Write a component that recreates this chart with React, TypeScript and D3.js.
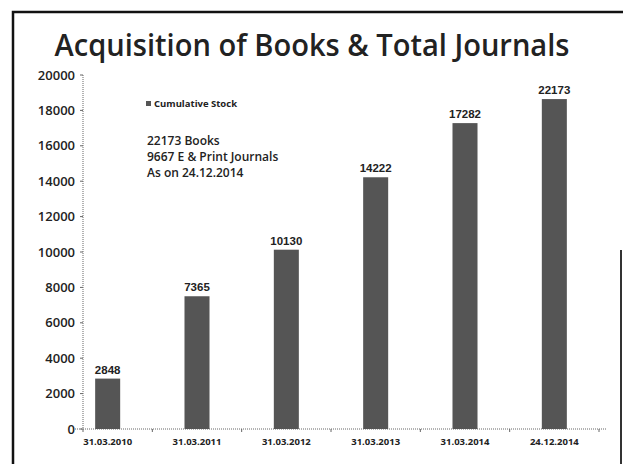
import * as d3 from "d3";
import React from "react";

const WIDTH = 623;
const HEIGHT = 464;

// categories on the x axis
const dates = [
  "31.03.2010",
  "31.03.2011",
  "31.03.2012",
  "31.03.2013",
  "31.03.2014",
  "24.12.2014",
];

// labels printed above the bars
const stockLabels = [2848, 7365, 10130, 14222, 17282, 22173];

// heights as the bars are actually drawn in the picture (last one is clipped at ~18640)
const barValues = [2848, 7500, 10130, 14222, 17282, 18640];

const yTicks = [0, 2000, 4000, 6000, 8000, 10000, 12000, 14000, 16000, 18000, 20000];

const noteLines = ["22173 Books", "9667 E & Print Journals", "As on 24.12.2014"];

const BAR_FILL = "#555555";
const FONT = "'Open Sans', 'Noto Sans', sans-serif";

export default function App() {
  const y = d3.scaleLinear().domain([0, 20000]).range([429, 75]);

  const x = d3
    .scaleBand<string>()
    .domain(dates)
    .range([63, 599])
    .paddingInner(0.72)
    .paddingOuter(0.36);

  const axisLeft = 83;
  const axisRight = 606;

  const bars = dates.map((d, i) => (
    <g key={d}>
      <rect
        x={x(d)}
        y={y(barValues[i])}
        width={x.bandwidth()}
        height={y(0) - y(barValues[i])}
        fill={BAR_FILL}
      />
      <text
        x={x(d)! + x.bandwidth() / 2}
        y={y(barValues[i]) - 5}
        textAnchor="middle"
        fontFamily="'Liberation Sans', Arial, sans-serif"
        fontWeight="bold"
        fontSize={11.5}
        fill="#222"
      >
        {stockLabels[i]}
      </text>
      <text
        x={x(d)! + x.bandwidth() / 2}
        y={445}
        textAnchor="middle"
        fontFamily={FONT}
        fontWeight="bold"
        fontSize={9.5}
        fill="#222"
      >
        {d}
      </text>
    </g>
  ));

  const ticks = yTicks.map((t) => (
    <g key={t} transform={`translate(0, ${y(t)})`}>
      <line x1={axisLeft - 3} x2={axisLeft} stroke="#666" strokeWidth={1} />
      <text
        x={75}
        dy="0.35em"
        textAnchor="end"
        fontFamily={FONT}
        fontWeight={600}
        fontSize={13}
        fill="#222"
      >
        {t}
      </text>
    </g>
  ));

  const xTicks = d3.range(dates.length + 1).map((i) => {
    const xx = i === 0 ? axisLeft : x.range()[0] + x.step() * i;
    return (
      <line
        key={i}
        x1={xx}
        x2={xx}
        y1={y(0)}
        y2={y(0) + 3}
        stroke="#666"
        strokeWidth={1}
      />
    );
  });

  return (
    <svg
      width={WIDTH}
      height={HEIGHT}
      style={{ position: "absolute", left: 0, top: 0, background: "#fff" }}
    >
      {/* frame of the scanned slide */}
      <path d="M13,470 L13,12 L623,12" fill="none" stroke="#111" strokeWidth={2.5} />
      <line x1={621} x2={621} y1={250} y2={470} stroke="#333" strokeWidth={2} />

      <text
        x={312}
        y={56}
        textAnchor="middle"
        fontFamily={FONT}
        fontWeight={600}
        fontSize={31}
        fill="#222"
        textLength={515}
        lengthAdjust="spacingAndGlyphs"
      >
        Acquisition of Books &amp; Total Journals
      </text>

      {/* axes */}
      <line
        x1={axisLeft}
        x2={axisLeft}
        y1={y(20000)}
        y2={y(0)}
        stroke="#666"
        strokeWidth={1}
        strokeDasharray="1 1"
      />
      <line
        x1={75}
        x2={axisRight}
        y1={y(0)}
        y2={y(0)}
        stroke="#666"
        strokeWidth={1}
        strokeDasharray="1 1"
      />
      {ticks}
      {xTicks}
      {bars}

      {/* legend */}
      <rect x={146} y={101} width={5} height={5} fill={BAR_FILL} />
      <text x={154} y={107} fontFamily={FONT} fontWeight="bold" fontSize={9.5} fill="#222">
        Cumulative Stock
      </text>

      {noteLines.map((line, i) => (
        <text
          key={line}
          x={147}
          y={145 + i * 16}
          fontFamily={FONT}
          fontWeight={600}
          fontSize={12}
          fill="#222"
        >
          {line}
        </text>
      ))}
    </svg>
  );
}
